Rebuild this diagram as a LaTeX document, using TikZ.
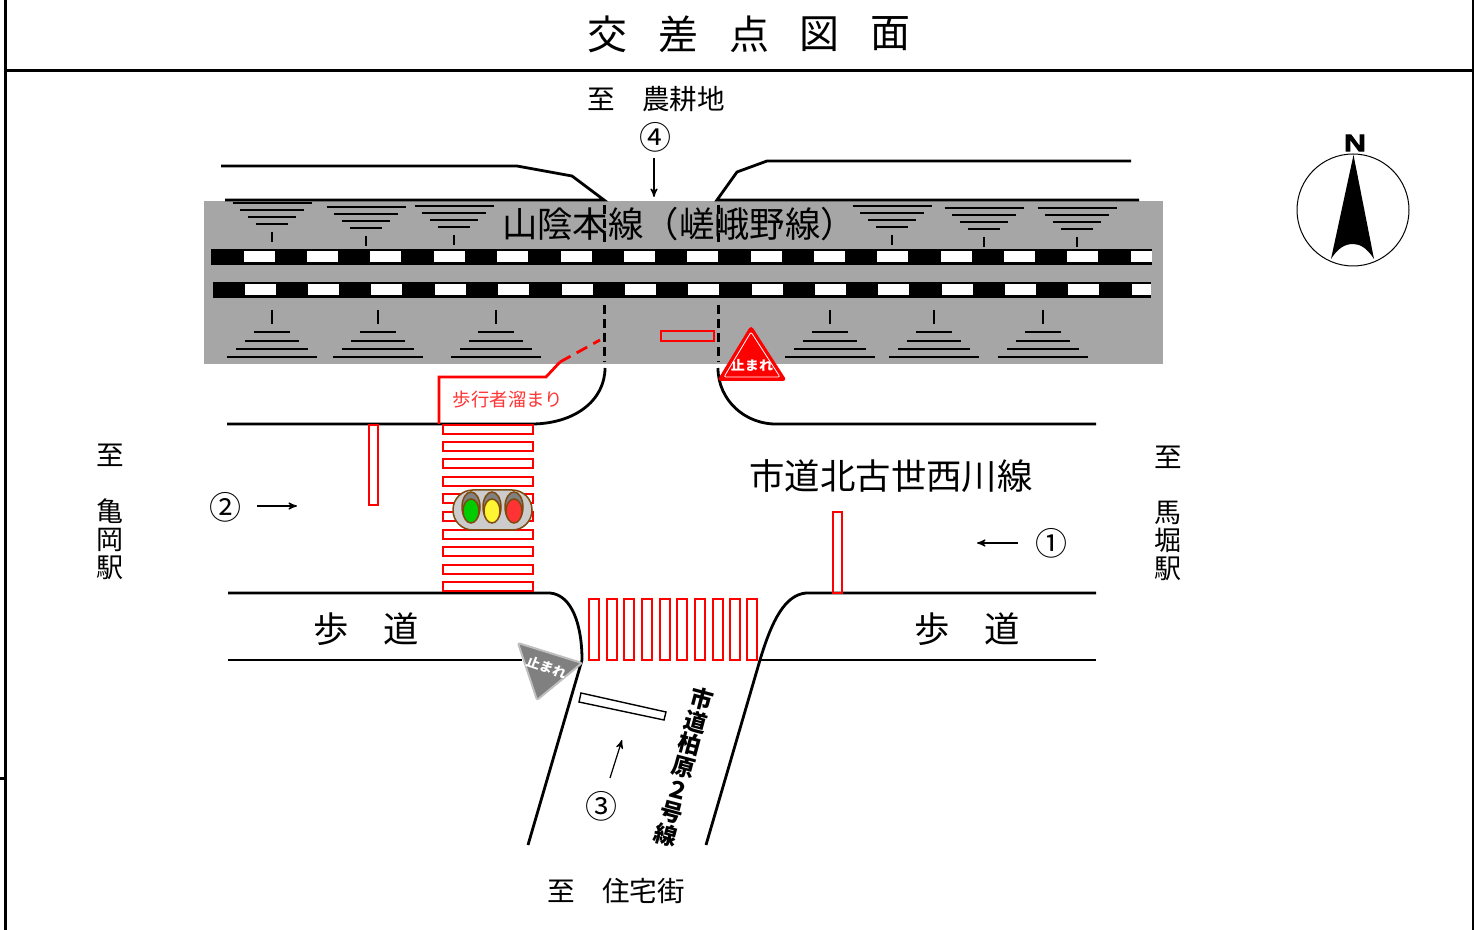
\documentclass[tikz,border=0pt]{standalone}
\usepackage{fontspec}
\setmainfont{Noto Sans CJK JP}
\newfontfamily\northfont[FakeBold=6]{DejaVu Sans}
\usetikzlibrary{
  arrows,
  arrows.meta,
  calc,
  positioning,
}

\begin{document}
\begin{tikzpicture}[
    x = 0.5pt,
    y = -0.5pt,
    t/.style={inner sep=0pt, outer sep=0pt, font=\fontsize{13.8pt}{14pt}\selectfont},
    big/.style={inner sep=0pt, outer sep=0pt, font=\fontsize{17.7pt}{18pt}\selectfont},
    num/.style={inner sep=0pt, outer sep=0pt, font=\fontsize{16pt}{17pt}\selectfont},
    ttl/.style={inner sep=0pt, outer sep=0pt, font=\fontsize{20pt}{20pt}\selectfont},
    stp/.style={inner sep=0pt, text=white, xscale=1.3, yscale=1.2,
      font=\fontsize{5.4pt}{6pt}\selectfont\bfseries},
    vert/.style={t, align=center},
    a/.style={->, >=stealth', line width=0.6pt},
    road/.style={line width=1.4pt},
    rail/.style={line width=1.5pt, dash pattern=on 4.5pt off 2.5pt},
    bal/.style={line width=1pt},
    tick/.style={line width=0.6pt},
    rd/.style={draw=red, line width=0.9pt},
    lamp/.style={draw=lampedge, line width=0.75pt},]
  \definecolor{ballast}{HTML}{A6A6A6}
  \definecolor{lampedge}{HTML}{7F4A10}
  \useasboundingbox (0,0) rectangle (1474,930);
  %% frame
  \draw[line width=1.5pt] (5.5,0) -- (5.5,930);
  \draw[line width=1.5pt] (0,778) -- (5.5,778);
  \draw[line width=1.5pt] (5.5,70.5) -- (1473,70.5);
  \draw[line width=1.5pt] (1473,0) -- (1473,930);
  \node[ttl] (TitleA) at (607,34) {交};
  \node[ttl] (TitleB) at (678,34) {差};
  \node[ttl] (TitleC) at (749,34) {点};
  \node[ttl] (TitleD) at (819,34) {図};
  \node[ttl] (TitleE) at (890,34) {面};
  %% railway
  \fill[ballast] (204,201) rectangle (1163,364);
  \draw[road] (221,166) -- (517,166) -- (572,176) -- (604,200) -- (225,200);
  \draw[road] (1131,161) -- (767,161) -- (737,172) -- (717,200) -- (1139,200);
  \fill (211,249) rectangle (1152,265);
  \fill (213,282) rectangle (1151,298);
  \foreach \wx in {244,307,370,434,497,561,624,687,751,814,877,941,1004,1067}{
    \fill[white] (\wx,251) rectangle +(31,11);
    \fill[white] (\wx+1,284) rectangle +(31,11);
  }
  \fill[white] (1131,251) rectangle (1152,262);
  \fill[white] (1132,284) rectangle (1151,295);
  %%
  \foreach \cx/\ty in {272/203,366/207,454/206,892/206,984/208,1077/208}{
    \draw[bal] (\cx-39.5,\ty) -- (\cx+39.5,\ty);
    \draw[bal] (\cx-32,\ty+7) -- (\cx+32,\ty+7);
    \draw[bal] (\cx-24,\ty+14) -- (\cx+24,\ty+14);
    \draw[bal] (\cx-16,\ty+21) -- (\cx+16,\ty+21);
    \draw[tick] (\cx,\ty+29) -- (\cx,\ty+39);
  }
  \foreach \cx in {272,378,496,830,934,1043}{
    \draw[tick] (\cx,310) -- (\cx,324);
    \draw[bal] (\cx-18,332) -- (\cx+18,332);
    \draw[bal] (\cx-27,341) -- (\cx+27,341);
    \draw[bal] (\cx-36,349) -- (\cx+36,349);
    \draw[bal] (\cx-45,357) -- (\cx+45,357);
  }
  \node[big] (Rail) at (679,224) {山陰本線（嵯峨野線）};
  \draw[rail] (604,205) -- (604,245);
  \draw[rail] (718,205) -- (718,245);
  \draw[rail] (604,305) -- (604,362);
  \draw[rail] (718,305) -- (718,362);
  %% roads
  \draw[road] (227,424) -- (528,424)
  .. controls (575,425) and (605,400) .. (605,368);
  \draw[road] (1096,424) -- (778,424)
  .. controls (745,425) and (718,400) .. (718,368);
  \draw[road] (228,593) -- (550,593)
  .. controls (572,595) and (582,625) .. (582,660) -- (528,845);
  \draw[road] (1096,593) -- (806,593)
  .. controls (785,595) and (772,620) .. (760,660) -- (706,845);
  \draw[road] (228,660) -- (522,660);
  \draw[road] (760,660) -- (1096,660);
  %% red markings
  \draw[rd, line width=1.4pt] (439,424) -- (439,377) -- (546,377) -- (560,362);
  \draw[rd, line width=1.4pt, dash pattern=on 6pt off 3.5pt] (560,362) -- (600,340);
  \node[t, text=red!80!white, font=\fontsize{9.2pt}{10pt}\selectfont] (Refuge) at (508,400) {歩行者溜まり};
  \draw[rd] (661,331) rectangle (714,341);
  \draw[rd] (369,425) rectangle (378,505);
  \draw[rd] (833,512) rectangle (842,593);
  \foreach \ry in {425,442,459,477,494,512,530,547,565,582}{
    \draw[rd] (443,\ry) rectangle +(90,9);
  }
  \foreach \rx in {589,607,624,642,660,677,695,713,730,747}{
    \draw[rd] (\rx,599) rectangle +(10,61);
  }
  \draw[line width=0.7pt] (581,693) -- (666,712) -- (664,720) -- (579,702) -- cycle;
  %% signal
  \draw[lamp, fill=black!20, rounded corners=9.9pt] (453,490) rectangle (532,530);
  \foreach \lx/\lc in {471/green!80!black,492/yellow!80!white,514/red!80!white}{
    \draw[lamp, fill=black!50] (\lx,507) ellipse (9 and 15);
    \draw[lamp, fill=\lc] (\lx,511) ellipse (8 and 12);
  }
  %% signs
  \fill[red, rounded corners=2pt] (751,325) -- (787,381) -- (717,381) -- cycle;
  \draw[white, line width=0.4pt, rounded corners=1pt] (751,332) -- (780,377) -- (724,377) -- cycle;
  \node[stp] (StopA) at (752,365) {止まれ};
  \draw[fill=black!50, draw=black!25, line width=1pt, rounded corners=1pt]
  (518,643) -- (582,663) -- (537,700) -- cycle;
  \node[stp, rotate=-20] (StopB) at (547,667) {止まれ};
  %% north mark
  \draw[line width=0.5pt] (1353,210) circle (56);
  \fill (1353.5,155) -- (1374,259) .. controls (1367,248) and (1360,244) .. (1353,244)
  .. controls (1345,244) and (1338,248) .. (1331,259) -- cycle;
  \node[inner sep=0pt, font=\fontsize{11pt}{11pt}\northfont, xscale=1.4] (North) at (1355,143) {N};
  %% labels
  \node[t] (ToFarm) at (656,99) {至　農耕地};
  \node[t] (ToHouses) at (616,891) {至　住宅街};
  \node[vert] (ToWestA) at (110,455) {至};
  \node[vert, font=\fontsize{13.5pt}{13.9pt}\selectfont] (ToWestB) at (110,539) {亀\\岡\\駅};
  \node[vert] (ToEastA) at (1168,457) {至};
  \node[vert, font=\fontsize{13.5pt}{13.9pt}\selectfont] (ToEastB) at (1168,541) {馬\\堀\\駅};
  \node[big] (RoadE) at (891,476) {市道北古世西川線};
  \node[big] (WalkWA) at (331,629) {歩};
  \node[big] (WalkWB) at (401,629) {道};
  \node[big] (WalkEA) at (932,629) {歩};
  \node[big] (WalkEB) at (1002,629) {道};
  \node[inner sep=0pt, align=center, rotate=-15,
  font=\fontsize{11.5pt}{11.7pt}\selectfont\bfseries] (RoadS) at (684,767)
  {市\\道\\柏\\原\\２\\号\\線};
  %% approaches
  \node[num] (One) at (1051,543) {①};
  \node[num] (Two) at (225,507) {②};
  \node[num] (Three) at (601,806) {③};
  \node[num] (Four) at (655,137) {④};
  \coordinate (OneA) at (1018,543);
  \coordinate (OneB) at (977,543);
  \coordinate (TwoA) at (257,506);
  \coordinate (TwoB) at (297,506);
  \coordinate (ThreeA) at (610,778);
  \coordinate (ThreeB) at (622,740);
  \coordinate (FourA) at (654,158);
  \coordinate (FourB) at (654,197);
  \draw[a] (OneA) -- (OneB);
  \draw[a] (TwoA) -- (TwoB);
  \draw[a] (ThreeA) -- (ThreeB);
  \draw[a] (FourA) -- (FourB);
\end{tikzpicture}
\end{document}
